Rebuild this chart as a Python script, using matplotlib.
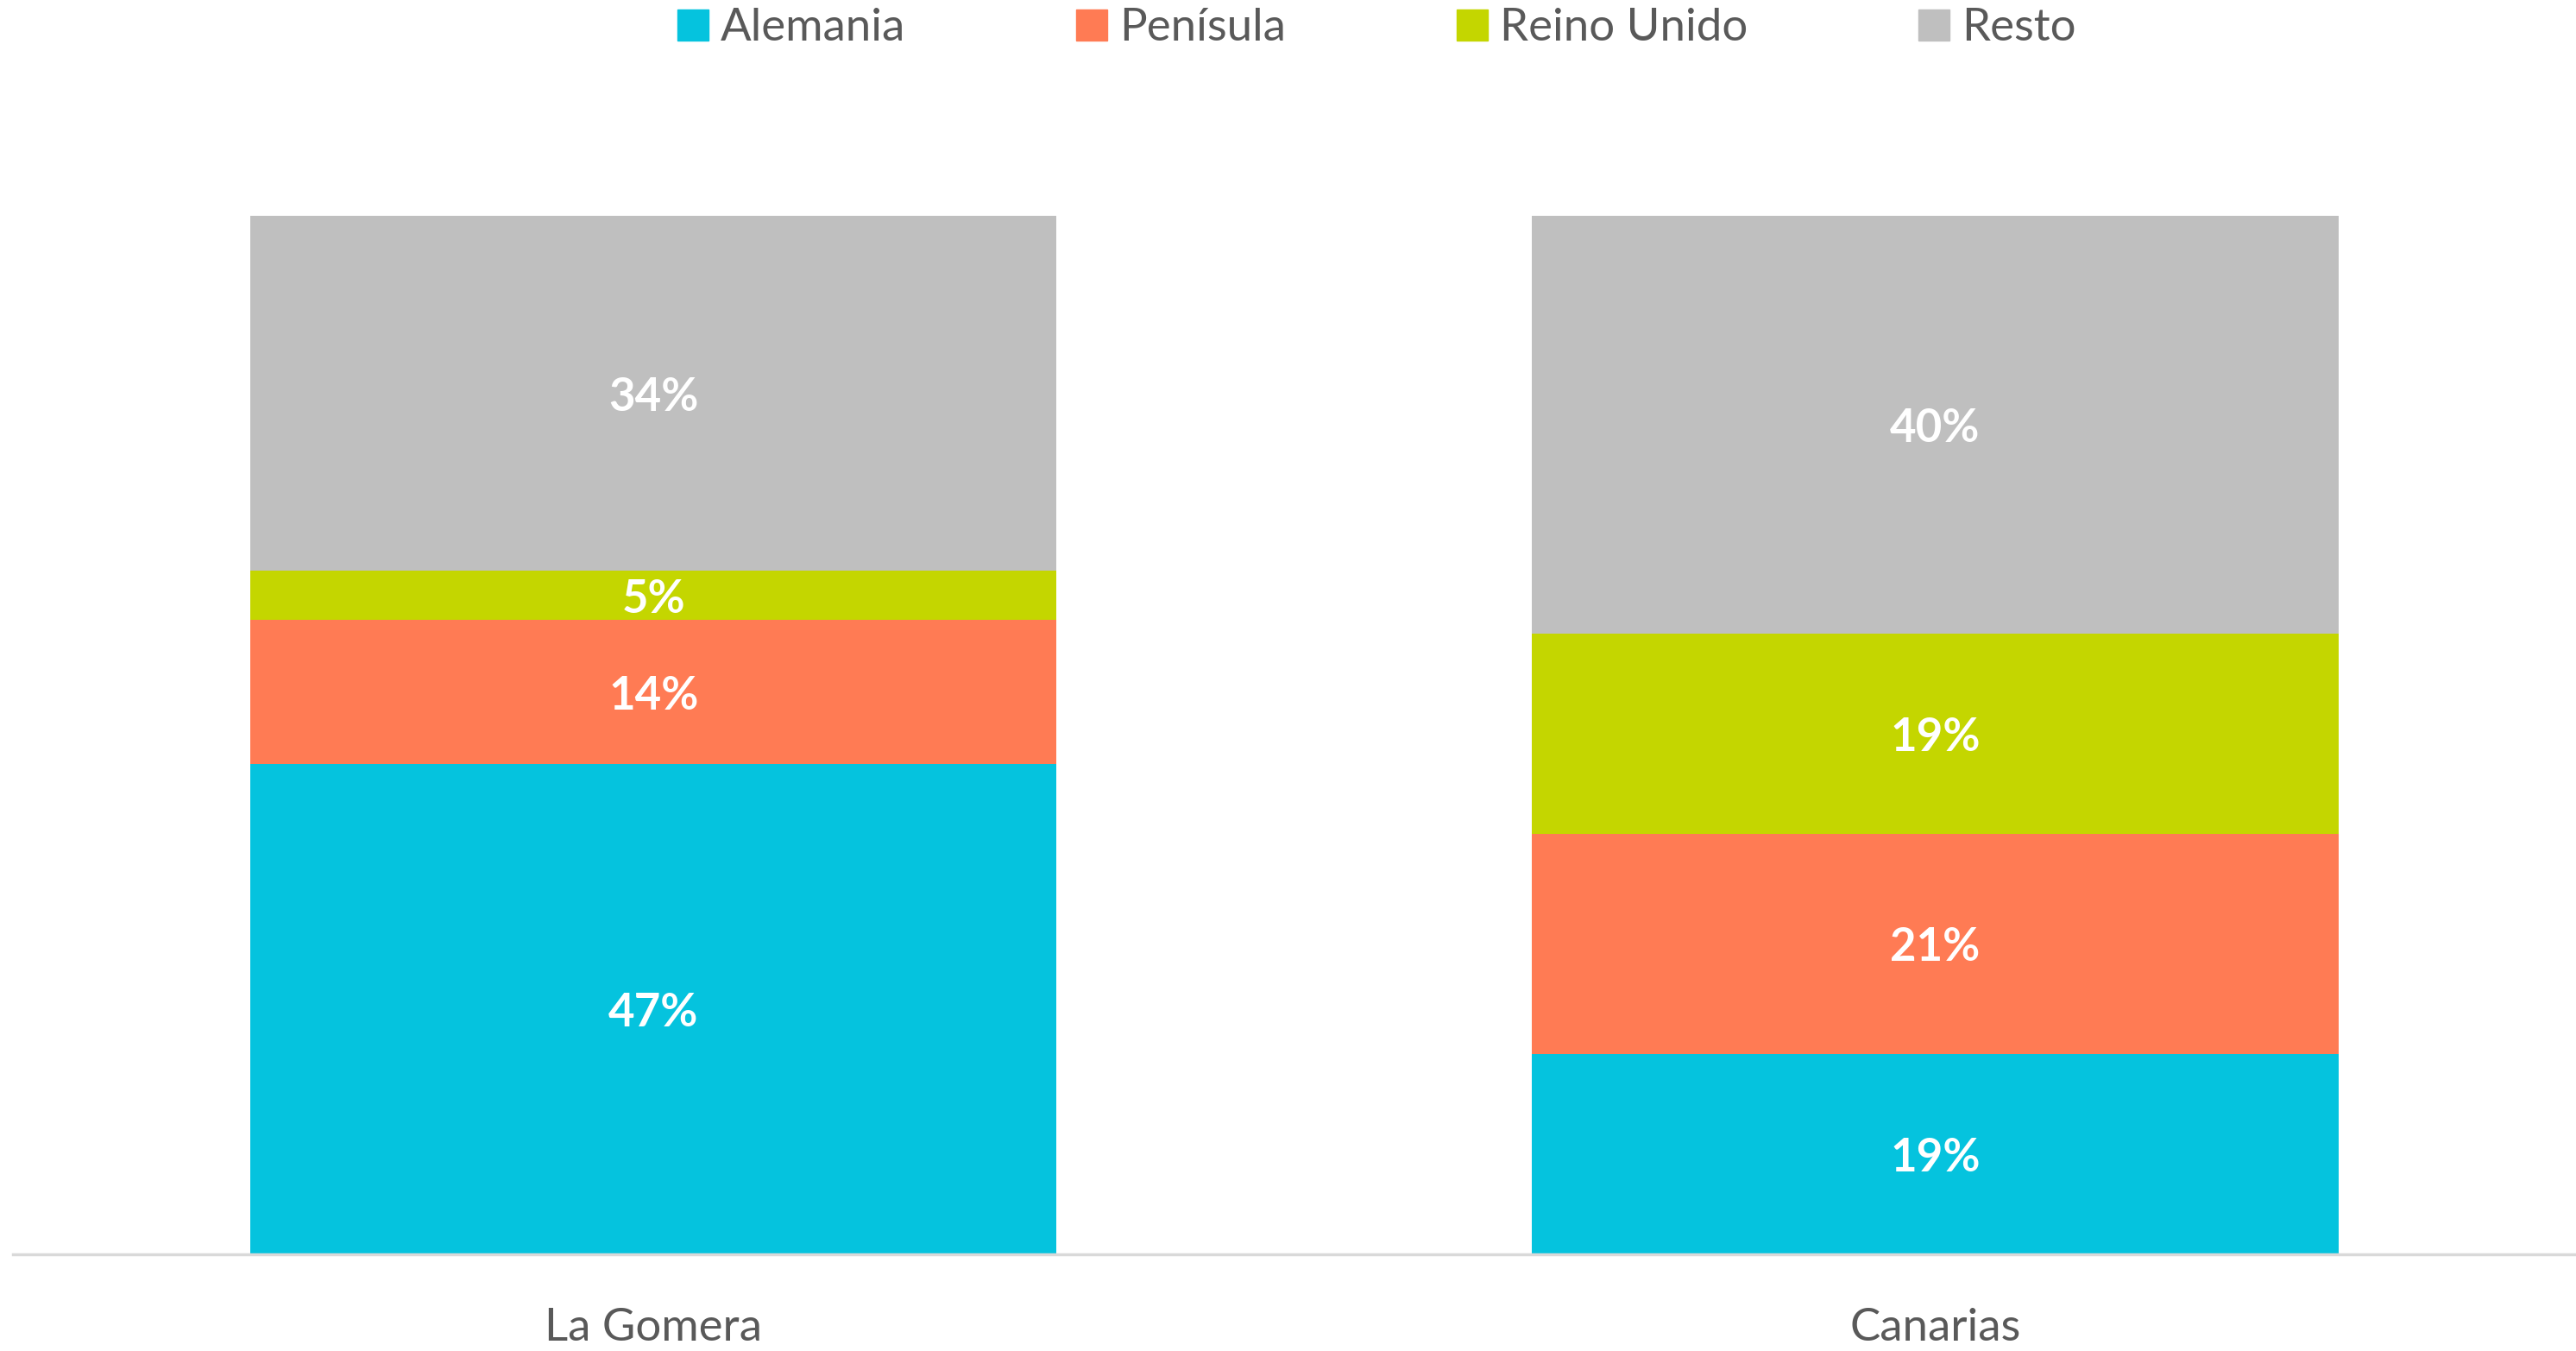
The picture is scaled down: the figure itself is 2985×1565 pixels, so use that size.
import numpy as np
import matplotlib.pyplot as plt
from matplotlib.lines import Line2D

plt.rcParams["font.family"] = ["Lato", "DejaVu Sans"]

categories = ["La Gomera", "Canarias"]
series = ["Alemania", "Penísula", "Reino Unido", "Resto"]
colors = ["#05C3DE", "#FF7B54", "#C4D600", "#BFBFBF"]

# share of tourists (%) per origin
alemania = [47.2, 19.3]
peninsula = [13.9, 21.2]
reino_unido = [4.7, 19.3]
resto = [34.2, 40.2]
values = [alemania, peninsula, reino_unido, resto]

fig = plt.figure(figsize=(29.85, 15.65), dpi=100)
ax = fig.add_axes([0.005, 0.0716, 0.995, 0.7686])

x = np.arange(len(categories))
bottom = np.zeros(len(categories))
for name, vals, col in zip(series, values, colors):
    vals = np.array(vals)
    ax.bar(x, vals, width=0.629, bottom=bottom, color=col, label=name)
    for xi, b, v in zip(x, bottom, vals):
        ax.text(xi, b + v / 2, f"{v:.0f}%", ha="center", va="center_baseline",
                color="white", fontsize=38, fontweight="bold")
    bottom += vals

ax.set_xlim(-0.5, 1.5)
ax.set_ylim(0, bottom.max())
ax.set_yticks([])
ax.set_xticks(x)
ax.set_xticklabels(categories, fontsize=38, color="#595959")
ax.tick_params(axis="x", length=0, pad=45)
for s in ["top", "right", "left"]:
    ax.spines[s].set_visible(False)
ax.spines["bottom"].set_color("#D9D9D9")
ax.spines["bottom"].set_linewidth(2.5)

handles = [Line2D([], [], marker="s", linestyle="none", markersize=26,
                  markerfacecolor=c, markeredgecolor=c) for c in colors]
fig.legend(handles, series, loc="center", bbox_to_anchor=(0.533, 0.979),
           ncol=4, frameon=False, fontsize=38, labelcolor="#595959",
           handletextpad=0.1, columnspacing=3.6, handlelength=1.0)

fig.savefig("out.png", dpi=100)
